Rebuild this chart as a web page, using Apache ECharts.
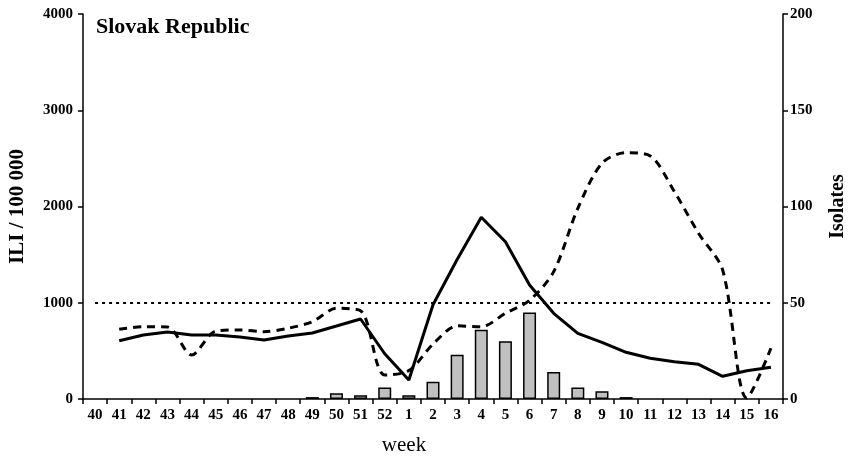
<!DOCTYPE html>
<html>
<head>
<meta charset="utf-8">
<script src="https://cdn.jsdelivr.net/npm/echarts@6/dist/echarts.min.js"></script>
<style>html,body{margin:0;padding:0;background:#fff}#c{width:849px;height:461px}</style>
</head>
<body>
<div id="c"></div>
<script>
var weeks = ['40','41','42','43','44','45','46','47','48','49','50','51','52','1','2','3','4','5','6','7','8','9','10','11','12','13','14','15','16'];
var iliCurrent = [null,605,665,696,665,665,644,613,655,686,758,831,470,197,980,1450,1888,1634,1184,890,682,589,485,423,388,360,236,294,329];
var iliPrevious = [null,724,751,748,457,706,717,699,735,803,942,917,249,295,570,760,751,890,1025,1323,1981,2449,2559,2525,2154,1722,1340,10,527];
var isolates = [null,null,null,null,null,null,null,null,null,1,3,2,6,2,9,23,36,30,45,14,6,4,1,null,null,null,null,null,null];
var leftTicks = [0,1000,2000,3000,4000];
var rightTicks = [0,50,100,150,200];
var threshold = 1000;

var font = '"Liberation Serif","Times New Roman",serif';
var chart = echarts.init(document.getElementById('c'));
chart.setOption({
  animation: false,
  backgroundColor: '#fff',
  title: {
    text: 'Slovak Republic', left: 91, top: 11,
    textStyle: {fontFamily: font, fontWeight: 'bold', fontSize: 22, color: '#000'}
  },
  grid: {left: 83, right: 66, top: 14, bottom: 62, containLabel: false, outerBoundsMode: 'none'},
  xAxis: {
    type: 'category', data: weeks, boundaryGap: true,
    name: 'week', nameLocation: 'middle', nameGap: 36,
    nameTextStyle: {fontFamily: font, fontSize: 21, color: '#000', padding: [0, 58, 0, 0]},
    axisLine: {lineStyle: {color: '#000', width: 1.5}},
    axisTick: {show: true, length: 5, lineStyle: {color: '#000', width: 1.5}},
    axisLabel: {fontFamily: font, fontWeight: 'bold', fontSize: 15, color: '#000', margin: 9, interval: 0},
    splitLine: {show: false}
  },
  yAxis: [{
    type: 'value', min: leftTicks[0], max: leftTicks[leftTicks.length-1], interval: 1000,
    name: 'ILI / 100 000', nameLocation: 'middle', nameGap: 55, nameRotate: 90,
    nameTextStyle: {fontFamily: font, fontWeight: 'bold', fontSize: 21, color: '#000'},
    axisLine: {show: true, lineStyle: {color: '#000', width: 1.5}},
    axisTick: {show: true, length: 5, lineStyle: {color: '#000', width: 1.5}},
    axisLabel: {fontFamily: font, fontWeight: 'bold', fontSize: 15, color: '#000', margin: 10,
      formatter: function (v) { return String(v); }},
    splitLine: {show: false}
  }, {
    type: 'value', min: rightTicks[0], max: rightTicks[rightTicks.length-1], interval: 50,
    name: 'Isolates', nameLocation: 'middle', nameGap: 45, nameRotate: 90,
    nameTextStyle: {fontFamily: font, fontWeight: 'bold', fontSize: 20, color: '#000'},
    axisLine: {show: true, lineStyle: {color: '#000', width: 1.5}},
    axisTick: {show: true, length: 5, lineStyle: {color: '#000', width: 1.5}},
    axisLabel: {fontFamily: font, fontWeight: 'bold', fontSize: 15, color: '#000', margin: 7,
      formatter: function (v) { return String(v); }},
    splitLine: {show: false}
  }],
  series: [{
    name: 'Isolates', type: 'bar', yAxisIndex: 1, data: isolates, barWidth: 13,
    itemStyle: {color: '#c0c0c0', borderColor: '#000', borderWidth: 1.5}
  }, {
    name: 'ILI previous season', type: 'line', yAxisIndex: 0, data: iliPrevious,
    smooth: 0.3, showSymbol: false, symbol: 'none',
    lineStyle: {color: '#000', width: 3, type: [8, 6]}
  }, {
    name: 'ILI current season', type: 'line', yAxisIndex: 0, data: iliCurrent,
    showSymbol: false, symbol: 'none',
    lineStyle: {color: '#000', width: 3},
    markLine: {
      silent: true, symbol: 'none', label: {show: false},
      lineStyle: {color: '#000', width: 2, type: [3, 4]},
      data: [[{coord: ['40', threshold]}, {coord: ['16', threshold]}]]
    }
  }]
});
</script>
</body>
</html>
